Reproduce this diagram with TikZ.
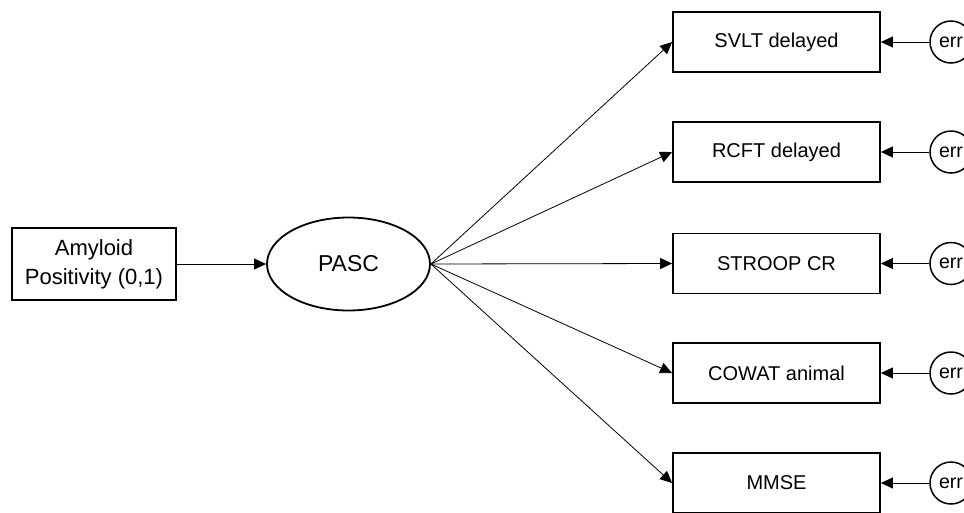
\documentclass[tikz,border=0pt]{standalone}
\usepackage{fontspec}
\setmainfont{Liberation Sans}
\usetikzlibrary{arrows.meta,shapes.geometric}
\begin{document}
\begin{tikzpicture}[x=1pt,y=-1pt,
  box/.style={draw, line width=1.8pt, minimum width=207pt, minimum height=60pt, inner sep=0pt, font=\fontsize{20}{23}\selectfont},
  errc/.style={draw, circle, line width=1.5pt, minimum size=42pt, inner sep=0pt, font=\fontsize{19.6}{23}\selectfont},
  arr/.style={-{Triangle[length=12pt,width=11pt]}, line width=0.8pt}]
\useasboundingbox (0,0) rectangle (964,512);
\node[box, minimum width=164pt, minimum height=72pt, align=center, font=\fontsize{22}{29}\selectfont] (amy) at (94,264) {Amyloid\\Positivity (0,1)};
\node[draw, ellipse, line width=1.8pt, minimum width=163pt, minimum height=93pt, inner sep=0pt, font=\fontsize{23}{27}\selectfont] (pasc) at (348.5,264) {PASC};
\node[box] (b1) at (776.5,42) {SVLT delayed};
\node[box] (b2) at (776.5,152) {RCFT delayed};
\node[box] (b3) at (776.5,263.5) {STROOP CR};
\node[box] (b4) at (776.5,373) {COWAT animal};
\node[box] (b5) at (776.5,483) {MMSE};
\node[errc] (e1) at (951,42) {err};
\node[errc] (e2) at (951,152) {err};
\node[errc] (e3) at (951,263.5) {err};
\node[errc] (e4) at (951,373) {err};
\node[errc] (e5) at (951,483) {err};
\draw[arr] (amy.east) -- (pasc.west);
\foreach \i in {1,...,5}{
  \draw[arr] (pasc.east) -- (b\i.west);
  \draw[arr] (e\i.west) -- (b\i.east);
}
\end{tikzpicture}
\end{document}
